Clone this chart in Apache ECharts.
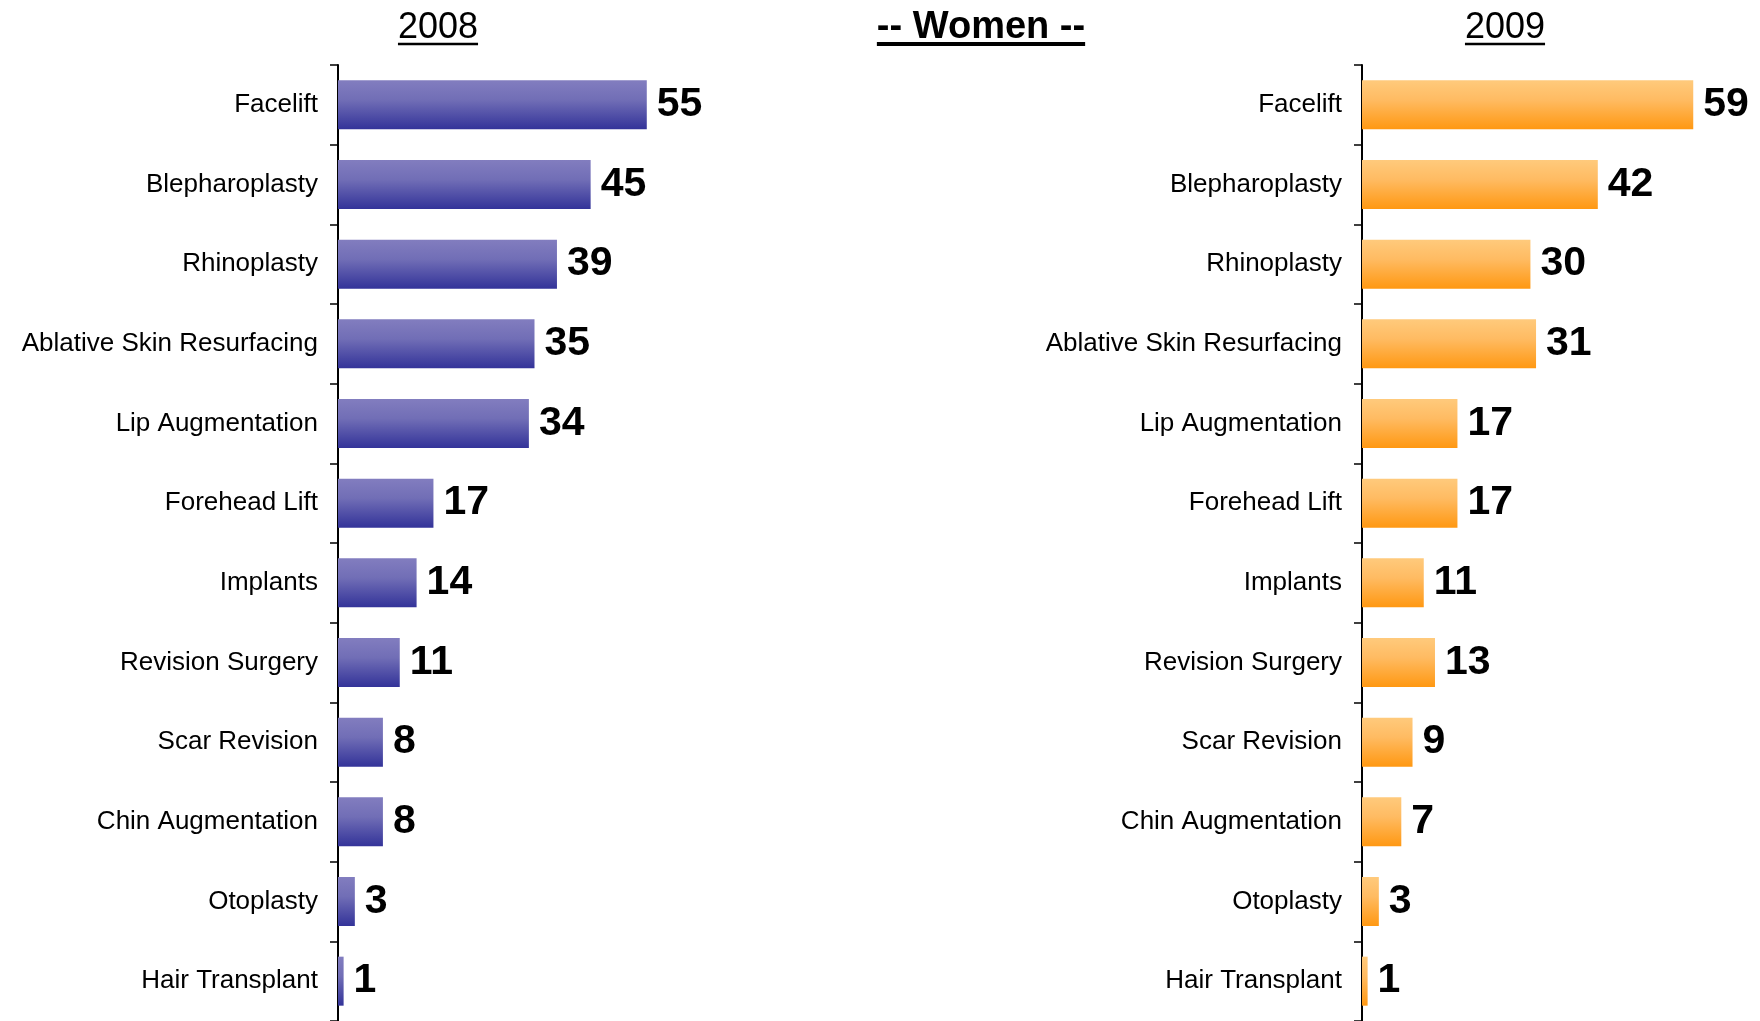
<html>
  <head>
    <meta charset="utf-8" />
    <title>Women 2008 / 2009</title>
    <style>
      body { margin: 0; background: #ffffff; }
    </style>
  </head>
  <body>
    <div id="main" style="width:1760px;height:1021px;"></div>
    <script src="https://cdn.jsdelivr.net/npm/echarts@6/dist/echarts.min.js"></script>
    <script type="text/javascript">
      var categories = [
        "Facelift",
        "Blepharoplasty",
        "Rhinoplasty",
        "Ablative Skin Resurfacing",
        "Lip Augmentation",
        "Forehead Lift",
        "Implants",
        "Revision Surgery",
        "Scar Revision",
        "Chin Augmentation",
        "Otoplasty",
        "Hair Transplant"
      ];
      var values2008 = [55, 45, 39, 35, 34, 17, 14, 11, 8, 8, 3, 1];
      var values2009 = [59, 42, 30, 31, 17, 17, 11, 13, 9, 7, 3, 1];
      var titleLeft = "2008";
      var titleMid = "-- Women --";
      var titleRight = "2009";

      var font = "'Liberation Sans', Arial, sans-serif";
      var chart = echarts.init(document.getElementById("main"));

      var blueFill = new echarts.graphic.LinearGradient(0, 0, 0, 1, [
        { offset: 0, color: "#827dbf" },
        { offset: 0.4, color: "#716eb6" },
        { offset: 1, color: "#333399" }
      ]);
      var orangeFill = new echarts.graphic.LinearGradient(0, 0, 0, 1, [
        { offset: 0, color: "#ffca7c" },
        { offset: 0.4, color: "#ffbb62" },
        { offset: 1, color: "#ff9812" }
      ]);

      function yAxisFor(gridIndex) {
        return {
          type: "category",
          gridIndex: gridIndex,
          data: categories,
          inverse: true,
          axisLine: { show: true, lineStyle: { color: "#000", width: 2 } },
          axisTick: { show: true, length: 8, lineStyle: { color: "#000", width: 1.5 } },
          axisLabel: {
            color: "#000",
            fontFamily: font,
            fontSize: 26,
            margin: 20
          }
        };
      }

      function xAxisFor(gridIndex) {
        return { type: "value", gridIndex: gridIndex, min: 0, max: 70, show: false };
      }

      function barSeries(idx, data, fill) {
        return {
          type: "bar",
          xAxisIndex: idx,
          yAxisIndex: idx,
          data: data,
          barWidth: 49,
          itemStyle: { color: fill },
          label: {
            show: true,
            position: "right",
            distance: 10,
            color: "#000",
            fontFamily: font,
            fontWeight: "bold",
            fontSize: 41
          },
          silent: true
        };
      }

      // title text plus an underline as wide as the text
      var ctx = document.createElement("canvas").getContext("2d");
      function underlinedTitle(text, cx, size, weight, lineW) {
        var f = weight + " " + size + "px " + font;
        ctx.font = f;
        var w = ctx.measureText(text).width;
        return {
          type: "group",
          children: [
            {
              type: "text",
              x: cx,
              y: 28,
              style: {
                text: text,
                fill: "#000",
                font: f,
                align: "center",
                verticalAlign: "middle"
              }
            },
            {
              type: "line",
              shape: { x1: cx - w / 2, y1: 44, x2: cx + w / 2, y2: 44 },
              style: { stroke: "#000", lineWidth: lineW }
            }
          ]
        };
      }

      var option = {
        backgroundColor: "#ffffff",
        animation: false,
        grid: [
          { left: 338, top: 65, width: 393, height: 956 },
          { left: 1362, top: 65, width: 393, height: 956 }
        ],
        xAxis: [xAxisFor(0), xAxisFor(1)],
        yAxis: [yAxisFor(0), yAxisFor(1)],
        series: [
          barSeries(0, values2008, blueFill),
          barSeries(1, values2009, orangeFill)
        ],
        graphic: [
          underlinedTitle(titleLeft, 438, 36, "normal", 2.5),
          underlinedTitle(titleMid, 981, 38, "bold", 4),
          underlinedTitle(titleRight, 1505, 36, "normal", 2.5)
        ]
      };
      chart.setOption(option);
    </script>
  </body>
</html>
